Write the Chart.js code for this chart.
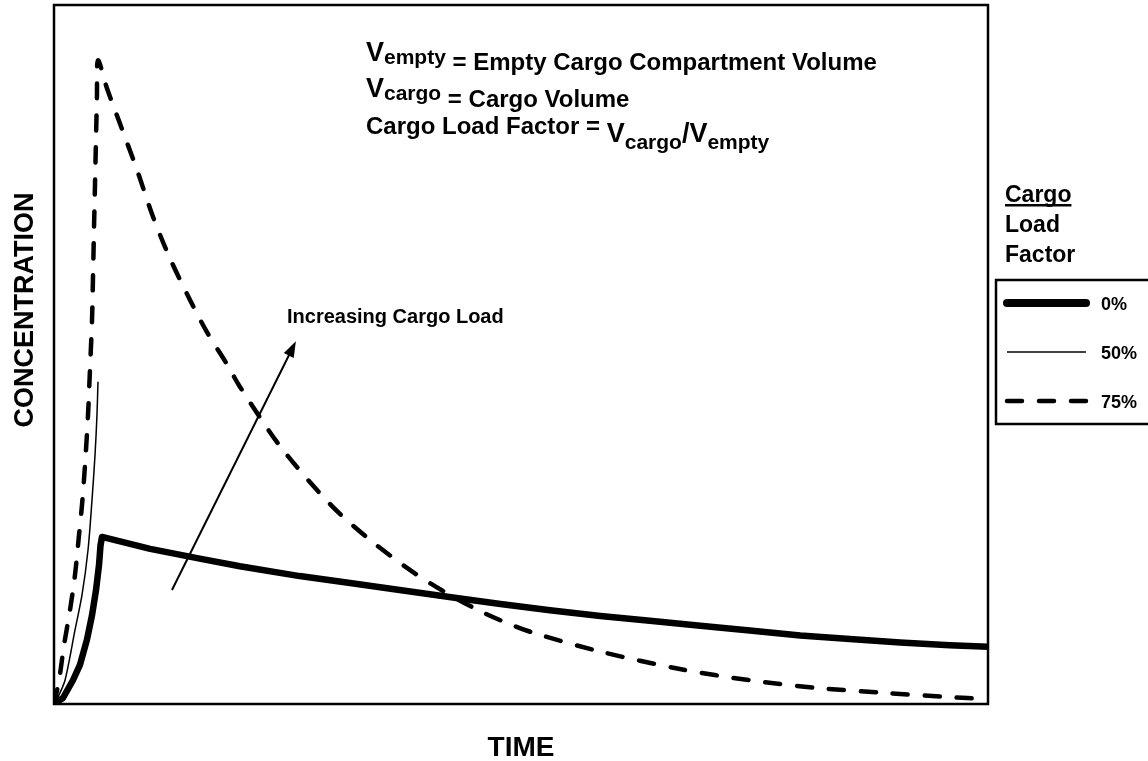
<!DOCTYPE html>
<html>
<head>
<meta charset="utf-8">
<script src="https://cdn.jsdelivr.net/npm/chart.js@4"></script>
<style>
  html, body { margin: 0; padding: 0; background: #fff; }
  #wrap { width: 1148px; height: 761px; }
</style>
</head>
<body>
<div id="wrap"><canvas id="myChart" width="1148" height="761"></canvas></div>
<script>
// values (time and concentration in arbitrary 0-100 units)
var time0 = [0, 0.96, 2.03, 2.78, 3.53, 4.07, 4.5, 4.82, 4.98, 5.14, 10.3, 15.6, 19.9, 26.3, 31.7, 37, 42.9, 47.8, 53.1, 58.5, 63.8, 69.2, 74.5, 79.9, 85.2, 90.6, 95.9, 100];
var conc0 = [0, 0.86, 3.4, 5.6, 9.2, 12.7, 16.3, 19.9, 22.7, 23.9, 22.2, 20.8, 19.7, 18.3, 17.3, 16.3, 15.2, 14.3, 13.4, 12.6, 11.9, 11.2, 10.5, 9.8, 9.3, 8.8, 8.4, 8.2];

var time50 = [0, 0.43, 1.18, 2.25, 3.0, 3.64, 4.07, 4.39, 4.6, 4.71];
var conc50 = [0, 1.0, 3.4, 10.6, 15.6, 22.0, 29.2, 35.6, 41.3, 46.1];

var time75 = [0, 0.54, 1.07, 1.71, 2.25, 2.68, 3.0, 3.32, 3.64, 3.85, 4.07, 4.18, 4.28, 4.39, 4.5, 4.6, 4.71,
              5.67, 7.07, 8.89, 10.6, 12.4, 14.56, 16.38, 18.52, 19.9, 24.2, 29.55, 33.8, 38.4, 41.6, 45.3, 48.1, 51.3, 58.5, 67, 74.5, 81.7, 88.8, 95.6, 100];
var conc75 = [0, 3.4, 8.4, 13.4, 18.5, 24.2, 28.5, 34.2, 41.3, 47.8, 54.9, 61.4, 67.8, 74.4, 81.0, 87.1, 92.1,
              88.1, 83.0, 76.4, 69.7, 63.8, 57.8, 53.2, 48.6, 45.4, 36.9, 28.6, 23.5, 18.9, 16.2, 13.5, 11.8, 10.2, 7.5, 5.0, 3.4, 2.3, 1.6, 1.0, 0.7];

var loadLabels = ['0%', '50%', '75%'];
var arrowFrom = [12.63, 16.3];
var arrowTo = [25.9, 51.9];

function toPoints(xs, ys) {
    var pts = [];
    for (var i = 0; i < xs.length; i++) {
        pts.push({ x: xs[i], y: ys[i] });
    }
    return pts;
}

var FONT = 'Arial, "Liberation Sans", sans-serif';

function boldText(ctx, text, size, x, y, align) {
    ctx.font = 'bold ' + size + 'px ' + FONT;
    ctx.textAlign = align || 'left';
    ctx.fillText(text, x, y);
    return ctx.measureText(text).width;
}

// one line of text made of runs: [text, size, baseline]
function drawRuns(ctx, x, runs) {
    for (var i = 0; i < runs.length; i++) {
        x += boldText(ctx, runs[i][0], runs[i][1], x, runs[i][2]);
    }
    return x;
}

var decorPlugin = {
    id: 'decor',
    afterDraw: function (chart) {
        var ctx = chart.ctx;
        var a = chart.chartArea;
        var xs = chart.scales.x, ys = chart.scales.y;
        ctx.save();
        ctx.fillStyle = '#000';
        ctx.strokeStyle = '#000';

        // plot frame
        ctx.lineWidth = 2.5;
        ctx.strokeRect(a.left, a.top, a.right - a.left, a.bottom - a.top);

        // axis titles
        boldText(ctx, 'TIME', 28, (a.left + a.right) / 2, 756, 'center');
        ctx.save();
        ctx.translate(33, 310);
        ctx.rotate(-Math.PI / 2);
        boldText(ctx, 'CONCENTRATION', 27, 0, 0, 'center');
        ctx.restore();

        // definitions block
        drawRuns(ctx, 366, [['V', 27, 61], ['empty', 21, 64], [' = Empty Cargo Compartment Volume', 24, 70]]);
        drawRuns(ctx, 366, [['V', 27, 97], ['cargo', 21, 100], [' = Cargo Volume', 24, 107]]);
        drawRuns(ctx, 366, [['Cargo Load Factor = ', 24, 134], ['V', 27, 142], ['cargo', 21, 149], ['/', 27, 142], ['V', 27, 142], ['empty', 21, 149]]);

        // arrow
        var x1 = xs.getPixelForValue(arrowFrom[0]), y1 = ys.getPixelForValue(arrowFrom[1]);
        var x2 = xs.getPixelForValue(arrowTo[0]), y2 = ys.getPixelForValue(arrowTo[1]);
        var ang = Math.atan2(y2 - y1, x2 - x1);
        var c = Math.cos(ang), s = Math.sin(ang);
        ctx.lineWidth = 2;
        ctx.beginPath();
        ctx.moveTo(x1, y1);
        ctx.lineTo(x2 - 12 * c, y2 - 12 * s);
        ctx.stroke();
        ctx.beginPath();
        ctx.moveTo(x2, y2);
        ctx.lineTo(x2 - 16 * c + 5.5 * s, y2 - 16 * s - 5.5 * c);
        ctx.lineTo(x2 - 16 * c - 5.5 * s, y2 - 16 * s + 5.5 * c);
        ctx.closePath();
        ctx.fill();
        boldText(ctx, 'Increasing Cargo Load', 20, 287, 323);

        // legend title
        var w = boldText(ctx, 'Cargo', 23, 1005, 202);
        ctx.fillRect(1005, 204, w, 2.5);
        boldText(ctx, 'Load', 23, 1005, 232);
        boldText(ctx, 'Factor', 23, 1005, 262);

        // legend box
        ctx.lineWidth = 2.5;
        ctx.beginPath();
        ctx.moveTo(1150, 280);
        ctx.lineTo(996, 280);
        ctx.lineTo(996, 424);
        ctx.lineTo(1150, 424);
        ctx.stroke();

        var rows = [303, 352, 401];
        var sets = chart.data.datasets;
        for (var i = 0; i < sets.length; i++) {
            var ds = sets[i];
            ctx.save();
            ctx.lineWidth = i === 0 ? 8 : ds.borderWidth;
            ctx.lineCap = ds.borderCapStyle || 'butt';
            ctx.setLineDash(ds.borderDash || []);
            ctx.beginPath();
            ctx.moveTo(1007, rows[i]);
            ctx.lineTo(1086, rows[i]);
            ctx.stroke();
            ctx.restore();
            boldText(ctx, ds.label, 18, 1101, rows[i] + 7);
        }
        ctx.restore();
    }
};

var ctx = document.getElementById('myChart').getContext('2d');
var myChart = new Chart(ctx, {
    type: 'line',
    data: {
        datasets: [{
            label: loadLabels[0],
            data: toPoints(time0, conc0),
            borderColor: '#000',
            borderWidth: 6.5,
            borderCapStyle: 'round',
            borderJoinStyle: 'round',
            tension: 0
        }, {
            label: loadLabels[1],
            data: toPoints(time50, conc50),
            borderColor: '#000',
            borderWidth: 1.5,
            tension: 0.3
        }, {
            label: loadLabels[2],
            data: toPoints(time75, conc75),
            borderColor: '#000',
            borderWidth: 4.5,
            borderDash: [15, 17],
            borderCapStyle: 'round',
            tension: 0.3
        }]
    },
    options: {
        responsive: false,
        animation: false,
        layout: { padding: { left: 54, top: 5, right: 160, bottom: 57 } },
        elements: { point: { radius: 0 } },
        plugins: { legend: { display: false }, tooltip: { enabled: false } },
        scales: {
            x: { type: 'linear', min: 0, max: 100, display: false },
            y: { type: 'linear', min: 0, max: 100, display: false }
        }
    },
    plugins: [decorPlugin]
});
</script>
</body>
</html>
